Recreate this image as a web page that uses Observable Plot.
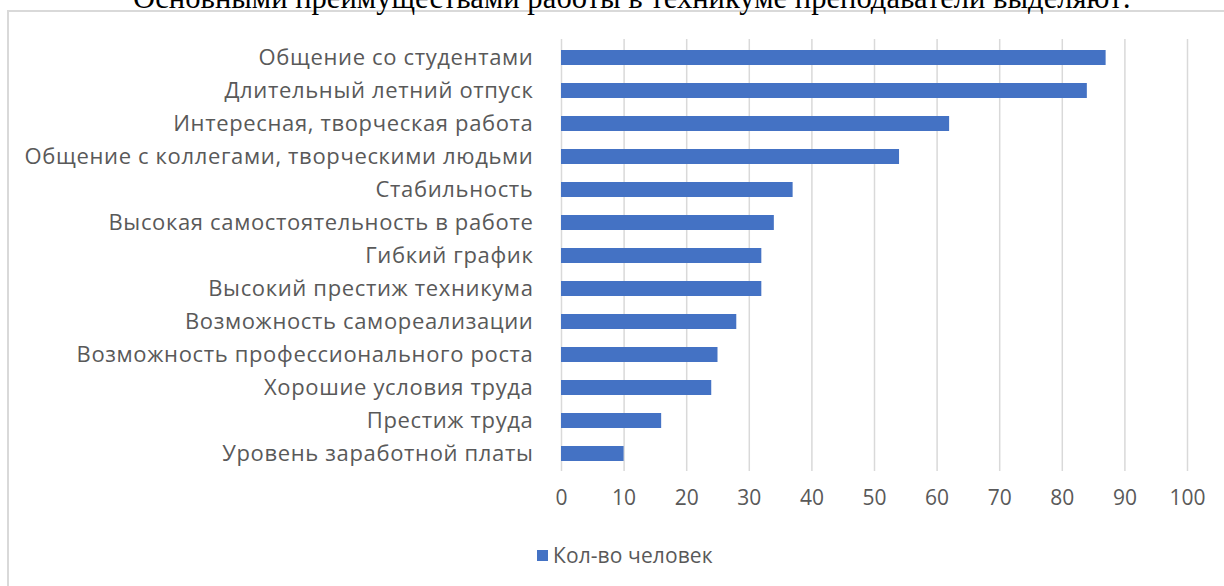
<!DOCTYPE html>
<html>
<head>
<meta charset="utf-8">
<script src="https://cdn.jsdelivr.net/npm/d3@7"></script>
<script src="https://cdn.jsdelivr.net/npm/@observablehq/plot@0.6"></script>
<style>
  html, body { margin: 0; padding: 0; background: #fff; overflow: hidden; }
  #wrap { position: relative; width: 1224px; height: 586px; overflow: hidden; }
  #frame { position: absolute; left: 7px; top: 10px; width: 1300px; height: 700px; border: 2px solid #d9d9d9; box-sizing: border-box; }
  #title { position: absolute; left: 0; width: 1264px; top: -17px; text-align: center; font-family: "Liberation Serif", serif; font-size: 30.6px; line-height: 31px; color: #000; white-space: nowrap; }
  #chart { position: absolute; left: 0; top: 0; }
  #legend { position: absolute; left: 537px; top: 541px; font-family: "Open Sans", sans-serif; font-size: 21px; letter-spacing: 0.1px; color: #595959; display: flex; align-items: center; white-space: nowrap; }
  #legend .sw { width: 11px; height: 11px; background: #4472C4; margin-right: 5px; }
  g[aria-label="y-axis tick label"] text { letter-spacing: 0.65px; }
</style>
</head>
<body>
<div id="wrap">
  <div id="frame"></div>
  <div id="title">Основными преимуществами работы в техникуме преподаватели выделяют:</div>
  <div id="chart"></div>
  <div id="legend"><span class="sw"></span><span>Кол-во человек</span></div>
</div>
<script>
const categories = [
  "Общение со студентами",
  "Длительный летний отпуск",
  "Интересная, творческая работа",
  "Общение с коллегами, творческими людьми",
  "Стабильность",
  "Высокая самостоятельность в работе",
  "Гибкий график",
  "Высокий престиж техникума",
  "Возможность самореализации",
  "Возможность профессионального роста",
  "Хорошие условия труда",
  "Престиж труда",
  "Уровень заработной платы"
];
const values = [87, 84, 62, 54, 37, 34, 32, 32, 28, 25, 24, 16, 10];
const xTicks = [0, 10, 20, 30, 40, 50, 60, 70, 80, 90, 100];
const seriesName = "Кол-во человек";

const data = categories.map((c, i) => ({category: c, value: values[i]}));

const chart = Plot.plot({
  width: 1224,
  height: 586,
  marginLeft: 561,
  marginRight: 37,
  marginTop: 39,
  marginBottom: 115,
  style: {fontFamily: "'Open Sans', sans-serif", fontSize: "20px", color: "#595959", background: "transparent"},
  x: {domain: [0, 100], ticks: xTicks, label: null},
  y: {domain: categories, paddingInner: 0.55, paddingOuter: 0.275, label: null},
  marks: [
    Plot.ruleX(xTicks, {stroke: "#d9d9d9", strokeWidth: 1.5}),
    Plot.barX(data, {x: "value", y: "category", fill: "#4472C4"}),
    Plot.axisX({ticks: xTicks, tickSize: 0, tickPadding: 19, fontSize: 21, fill: "#595959", label: null}),
    Plot.axisY({tickSize: 0, tickPadding: 28, fontSize: 22, fill: "#595959", label: null})
  ]
});
document.getElementById("chart").appendChild(chart);
document.querySelector("#legend span:last-child").textContent = seriesName;
</script>
</body>
</html>
